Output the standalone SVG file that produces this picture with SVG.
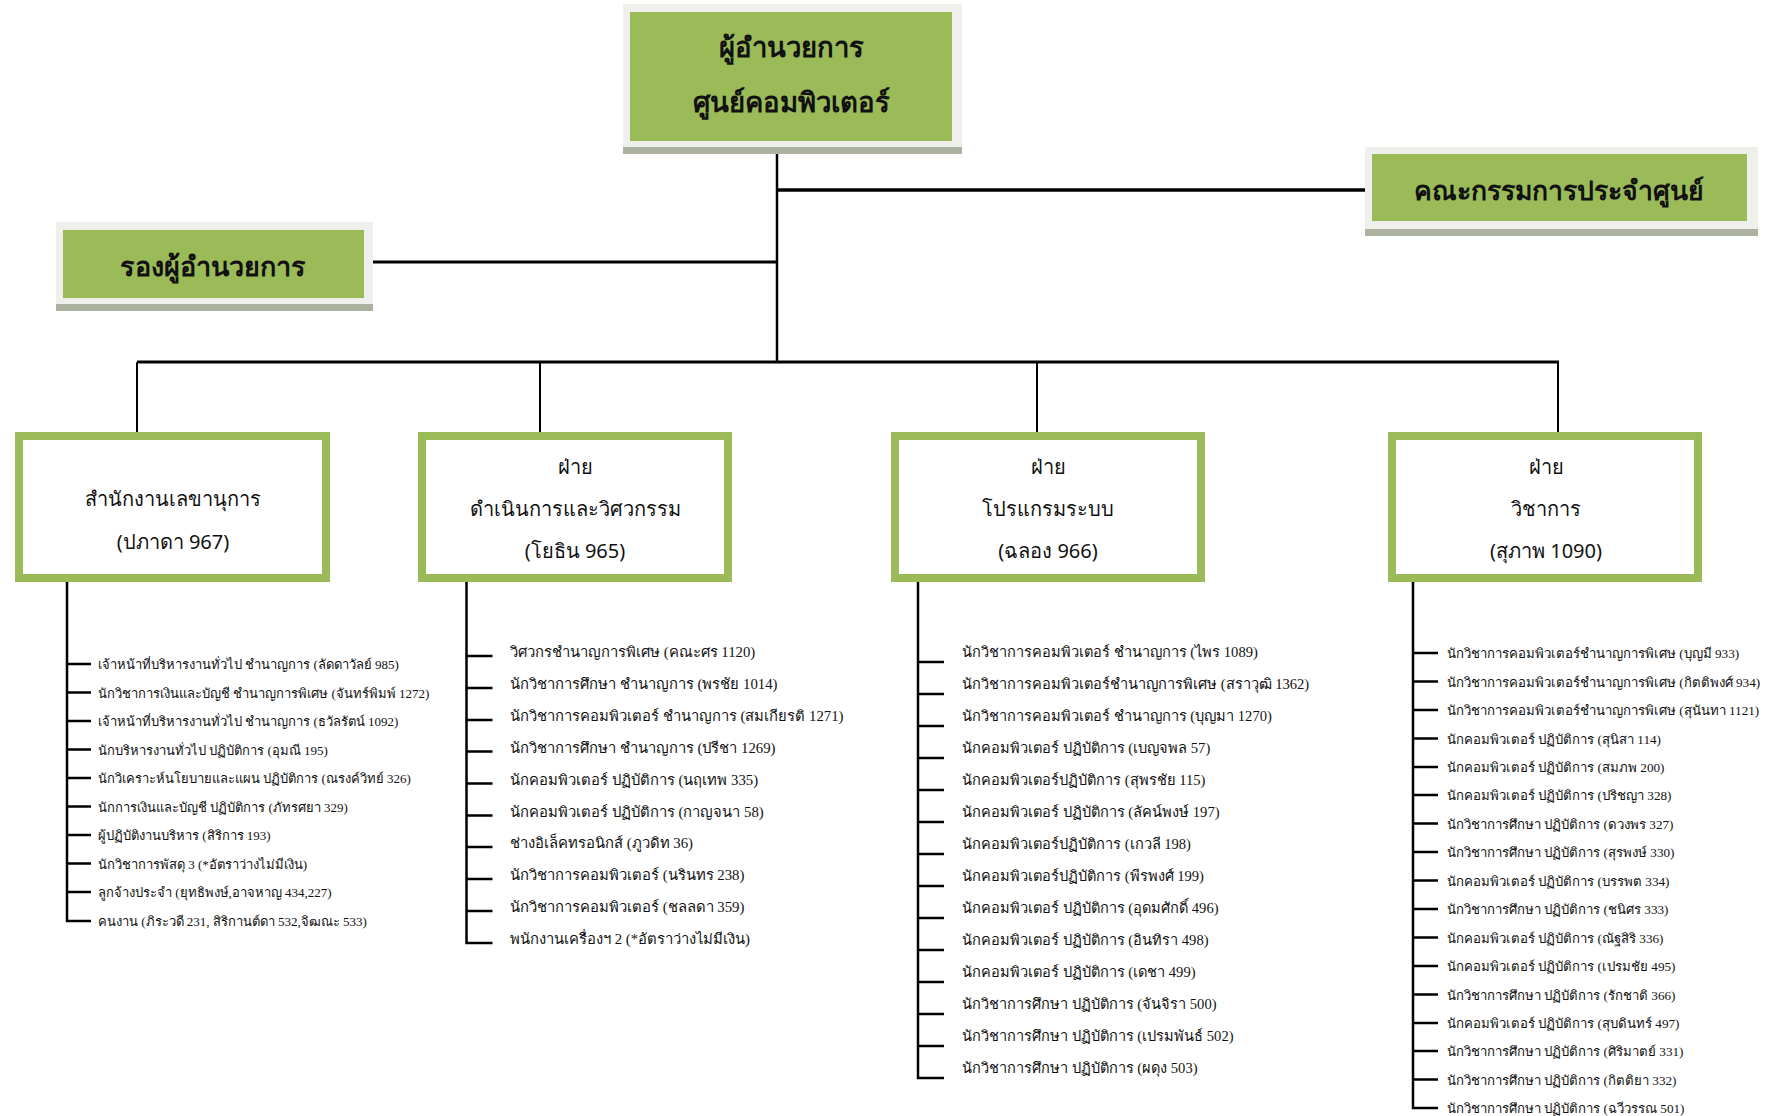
<svg xmlns="http://www.w3.org/2000/svg" width="1769" height="1116" viewBox="0 0 1769 1116">
<style>
.frame{fill:#eff0ec}
.band{fill:#abb29e}
.green{fill:#9bbb59}
.hdr{font-family:"Noto Sans","DejaVu Sans",sans-serif;font-weight:bold;fill:#111;text-anchor:middle}
.box{fill:#ffffff;stroke:#9bbb59;stroke-width:8}
.btx{font-family:"Noto Sans","DejaVu Sans",sans-serif;font-size:20px;fill:#111;text-anchor:middle}
.ln{stroke:#000;fill:none}
.li{font-family:"Liberation Serif",serif;fill:#111}
.s1{font-size:13px}
.s4{font-size:13.2px}
.s2{font-size:14.8px}
.s3{font-size:14.6px}
</style>
<g id="connectors">
<path class="ln" stroke-width="2.5" d="M777 154V362"/>
<path class="ln" stroke-width="3.5" d="M777 190H1372"/>
<path class="ln" stroke-width="3" d="M373 262H777"/>
<path class="ln" stroke-width="3" d="M137 362H1559"/>
<path class="ln" stroke-width="2" d="M137 362V432M540 362V432M1037 362V432M1558 362V432"/>
<path class="ln" stroke-width="2.5" d="M67 582V921H91M67 664H91M67 692.5H91M67 721H91M67 749.5H91M67 778H91M67 806.5H91M67 835H91M67 863.5H91M67 892H91"/>
<path class="ln" stroke-width="2.5" d="M466.5 582V943H492.5M466.5 656H492.5M466.5 688H492.5M466.5 720H492.5M466.5 751.5H492.5M466.5 783.5H492.5M466.5 815.5H492.5M466.5 847H492.5M466.5 879H492.5M466.5 911H492.5"/>
<path class="ln" stroke-width="2.5" d="M918 582V1078H944M918 662H944M918 694H944M918 726H944M918 758H944M918 790H944M918 822H944M918 854H944M918 886H944M918 918H944M918 950H944M918 982H944M918 1014H944M918 1046H944"/>
<path class="ln" stroke-width="2.5" d="M1413 582V1108H1438M1413 653H1438M1413 681.5H1438M1413 710H1438M1413 738.5H1438M1413 767H1438M1413 795H1438M1413 823.5H1438M1413 852H1438M1413 880.5H1438M1413 909H1438M1413 937.5H1438M1413 966H1438M1413 994.5H1438M1413 1023H1438M1413 1051H1438M1413 1079.5H1438"/>
</g>
<g id="director">
<rect class="frame" x="623" y="4" width="339" height="150"/>
<rect class="band" x="623" y="147" width="339" height="7"/>
<rect class="green" x="630" y="12" width="322" height="129"/>
<text class="hdr" x="791" y="57" font-size="27.5">ผู้อำนวยการ</text>
<text class="hdr" x="791" y="112" font-size="27.5">ศูนย์คอมพิวเตอร์</text>
</g>
<g id="committee">
<rect class="frame" x="1365" y="147" width="393" height="89"/>
<rect class="band" x="1365" y="229" width="393" height="7"/>
<rect class="green" x="1372" y="154" width="375" height="67"/>
<text class="hdr" x="1559" y="200" font-size="26.5">คณะกรรมการประจำศูนย์</text>
</g>
<g id="deputy">
<rect class="frame" x="56" y="222" width="317" height="89"/>
<rect class="band" x="56" y="304" width="317" height="7"/>
<rect class="green" x="63" y="230" width="301" height="68"/>
<text class="hdr" x="213" y="276" font-size="27">รองผู้อำนวยการ</text>
</g>
<g id="secretary">
<rect class="box" x="19" y="436" width="307" height="142"/>
<text class="btx" x="173" y="506">สำนักงานเลขานุการ</text>
<text class="btx" x="173" y="549">(ปภาดา 967)</text>
</g>
<g id="engineering">
<rect class="box" x="422" y="436" width="306" height="142"/>
<text class="btx" x="575" y="474">ฝ่าย</text>
<text class="btx" x="575" y="516">ดำเนินการและวิศวกรรม</text>
<text class="btx" x="575" y="558">(โยธิน 965)</text>
</g>
<g id="systems">
<rect class="box" x="895" y="436" width="306" height="142"/>
<text class="btx" x="1048" y="474">ฝ่าย</text>
<text class="btx" x="1048" y="516">โปรแกรมระบบ</text>
<text class="btx" x="1048" y="558">(ฉลอง 966)</text>
</g>
<g id="academic">
<rect class="box" x="1392" y="436" width="306" height="142"/>
<text class="btx" x="1546" y="474">ฝ่าย</text>
<text class="btx" x="1546" y="516">วิชาการ</text>
<text class="btx" x="1546" y="558">(สุภาพ 1090)</text>
</g>
<g id="list-secretary" class="li s1">
<text x="98" y="669">เจ้าหน้าที่บริหารงานทั่วไป ชำนาญการ (ลัดดาวัลย์ 985)</text>
<text x="98" y="697.5">นักวิชาการเงินและบัญชี ชำนาญการพิเศษ (จันทร์พิมพ์ 1272)</text>
<text x="98" y="726">เจ้าหน้าที่บริหารงานทั่วไป ชำนาญการ (ธวัลรัตน์ 1092)</text>
<text x="98" y="754.5">นักบริหารงานทั่วไป ปฏิบัติการ (อุมณี 195)</text>
<text x="98" y="783">นักวิเคราะห์นโยบายและแผน ปฏิบัติการ (ณรงค์วิทย์ 326)</text>
<text x="98" y="811.5">นักการเงินและบัญชี ปฏิบัติการ (ภัทรศยา 329)</text>
<text x="98" y="840">ผู้ปฏิบัติงานบริหาร (สิริการ 193)</text>
<text x="98" y="868.5">นักวิชาการพัสดุ 3 (*อัตราว่างไม่มีเงิน)</text>
<text x="98" y="897">ลูกจ้างประจำ (ยุทธิพงษ์,อาจหาญ 434,227)</text>
<text x="98" y="925.5">คนงาน (ภิระวดี 231, สิริกานต์ดา 532,จิฒณะ 533)</text>
</g>
<g id="list-engineering" class="li s2">
<text x="510" y="657">วิศวกรชำนาญการพิเศษ (คณะศร 1120)</text>
<text x="510" y="689">นักวิชาการศึกษา ชำนาญการ (พรชัย 1014)</text>
<text x="510" y="721">นักวิชาการคอมพิวเตอร์ ชำนาญการ (สมเกียรติ 1271)</text>
<text x="510" y="752.5">นักวิชาการศึกษา ชำนาญการ (ปรีชา 1269)</text>
<text x="510" y="784.5">นักคอมพิวเตอร์ ปฏิบัติการ (นฤเทพ 335)</text>
<text x="510" y="816.5">นักคอมพิวเตอร์ ปฏิบัติการ (กาญจนา 58)</text>
<text x="510" y="848">ช่างอิเล็คทรอนิกส์ (ภูวดิท 36)</text>
<text x="510" y="880">นักวิชาการคอมพิวเตอร์ (นรินทร 238)</text>
<text x="510" y="912">นักวิชาการคอมพิวเตอร์ (ชลลดา 359)</text>
<text x="510" y="944">พนักงานเครื่องฯ 2 (*อัตราว่างไม่มีเงิน)</text>
</g>
<g id="list-systems" class="li s3">
<text x="962" y="657">นักวิชาการคอมพิวเตอร์ ชำนาญการ (ไพร 1089)</text>
<text x="962" y="689">นักวิชาการคอมพิวเตอร์ชำนาญการพิเศษ (สราวุฒิ 1362)</text>
<text x="962" y="721">นักวิชาการคอมพิวเตอร์ ชำนาญการ (บุญมา 1270)</text>
<text x="962" y="753">นักคอมพิวเตอร์ ปฏิบัติการ (เบญจพล 57)</text>
<text x="962" y="785">นักคอมพิวเตอร์ปฏิบัติการ (สุพรชัย 115)</text>
<text x="962" y="817">นักคอมพิวเตอร์ ปฏิบัติการ (ลัคน์พงษ์ 197)</text>
<text x="962" y="849">นักคอมพิวเตอร์ปฏิบัติการ (เกวลี 198)</text>
<text x="962" y="881">นักคอมพิวเตอร์ปฏิบัติการ (พีรพงศ์ 199)</text>
<text x="962" y="913">นักคอมพิวเตอร์ ปฏิบัติการ (อุดมศักดิ์ 496)</text>
<text x="962" y="945">นักคอมพิวเตอร์ ปฏิบัติการ (อินทิรา 498)</text>
<text x="962" y="977">นักคอมพิวเตอร์ ปฏิบัติการ (เดชา 499)</text>
<text x="962" y="1009">นักวิชาการศึกษา ปฏิบัติการ (จันจิรา 500)</text>
<text x="962" y="1041">นักวิชาการศึกษา ปฏิบัติการ (เปรมพันธ์ 502)</text>
<text x="962" y="1073">นักวิชาการศึกษา ปฏิบัติการ (ผดุง 503)</text>
</g>
<g id="list-academic" class="li s4">
<text x="1447" y="658">นักวิชาการคอมพิวเตอร์ชำนาญการพิเศษ (บุญมี 933)</text>
<text x="1447" y="686.5">นักวิชาการคอมพิวเตอร์ชำนาญการพิเศษ (กิตติพงศ์ 934)</text>
<text x="1447" y="715">นักวิชาการคอมพิวเตอร์ชำนาญการพิเศษ (สุนันทา 1121)</text>
<text x="1447" y="743.5">นักคอมพิวเตอร์ ปฏิบัติการ (สุนิสา 114)</text>
<text x="1447" y="772">นักคอมพิวเตอร์ ปฏิบัติการ (สมภพ 200)</text>
<text x="1447" y="800">นักคอมพิวเตอร์ ปฏิบัติการ (ปริชญา 328)</text>
<text x="1447" y="828.5">นักวิชาการศึกษา ปฏิบัติการ (ดวงพร 327)</text>
<text x="1447" y="857">นักวิชาการศึกษา ปฏิบัติการ (สุรพงษ์ 330)</text>
<text x="1447" y="885.5">นักคอมพิวเตอร์ ปฏิบัติการ (บรรพต 334)</text>
<text x="1447" y="914">นักวิชาการศึกษา ปฏิบัติการ (ชนิศร 333)</text>
<text x="1447" y="942.5">นักคอมพิวเตอร์ ปฏิบัติการ (ณัฐสิริ 336)</text>
<text x="1447" y="971">นักคอมพิวเตอร์ ปฏิบัติการ (เปรมชัย 495)</text>
<text x="1447" y="999.5">นักวิชาการศึกษา ปฏิบัติการ (รักชาติ 366)</text>
<text x="1447" y="1028">นักคอมพิวเตอร์ ปฏิบัติการ (สุบดินทร์ 497)</text>
<text x="1447" y="1056">นักวิชาการศึกษา ปฏิบัติการ (ศิริมาตย์ 331)</text>
<text x="1447" y="1084.5">นักวิชาการศึกษา ปฏิบัติการ (กิตติยา 332)</text>
<text x="1447" y="1113">นักวิชาการศึกษา ปฏิบัติการ (ฉวีวรรณ 501)</text>
</g>
</svg>
